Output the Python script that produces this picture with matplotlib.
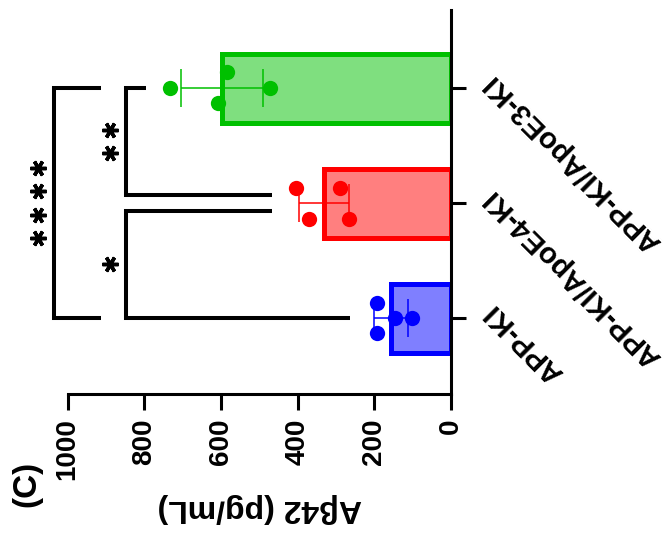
import numpy as np
import matplotlib
matplotlib.use('Agg')
import matplotlib.pyplot as plt

plt.rcParams['font.family'] = ['Liberation Sans', 'DejaVu Sans']
plt.rcParams['font.weight'] = 'bold'

# data
groups = ['APP-KI', 'APP-KI/ApoE4-KI', 'APP-KI/ApoE3-KI']
colors = ['#0000FF', '#FF0000', '#00C000']
means = [157, 331, 598]
sds = [44, 66, 107]
points = [[193, 193, 146, 102],
          [405, 371, 290, 266],
          [734, 585, 608, 473]]
jitter = [[0.13, -0.13, 0, 0],
          [0.135, -0.14, 0.135, -0.14],
          [0, 0.14, -0.13, 0]]
ticks = [0, 200, 400, 600, 800, 1000]

# significance brackets: (start, end, level, arm at start, arm at end, number of stars)
brackets = [(0, 0.933, 849, 264, 467, 1),
            (1.067, 2, 849, 467, 795, 2),
            (0, 2, 1037, 914, 914, 4)]

fig = plt.figure(figsize=(6.69, 5.41), dpi=100)
ax = fig.add_axes([0.1012, 0.2717, 0.5728, 0.7098])

pos = np.arange(len(groups))
for i in pos:
    ax.barh(i, means[i], height=0.6, color=colors[i], alpha=0.5, zorder=1)
    ax.barh(i, means[i], height=0.6, fill=False, edgecolor=colors[i], linewidth=3.6, zorder=2)
    ax.errorbar(means[i], i, xerr=sds[i], color=colors[i], elinewidth=1.1,
                capsize=13.7, capthick=1.1, zorder=3)
    ax.plot(points[i], i + np.array(jitter[i]), 'o', color=colors[i],
            markersize=11, markeredgewidth=0, zorder=4, clip_on=False)

for y0, y1, lvl, a0, a1, n in brackets:
    ax.plot([a0, lvl, lvl, a1], [y0, y0, y1, y1], color='black', linewidth=2.9,
            solid_joinstyle='miter', solid_capstyle='butt', clip_on=False, zorder=5)
    mid = (y0 + y1) / 2
    ys = mid + (np.arange(n) - (n - 1) / 2) * 0.203
    ax.plot([lvl + 40] * n, ys, linestyle='none', marker=(6, 2, 90), color='black',
            markersize=11.5, markeredgewidth=2.5, clip_on=False, zorder=5)

ax.set_xlim(1000, 0)
ax.set_ylim(-0.66, 2.68)
ax.spines['left'].set_visible(False)
ax.spines['top'].set_visible(False)
ax.spines['right'].set_linewidth(2.2)
ax.spines['bottom'].set_linewidth(2.2)
ax.yaxis.tick_right()
ax.set_yticks(pos)
ax.set_yticklabels(groups, rotation=135, rotation_mode='anchor', ha='right', va='top',
                   fontsize=21, fontweight='bold')
ax.set_xticks(ticks)
ax.set_xticklabels([str(t) for t in ticks], rotation=90, fontsize=20, fontweight='bold')
ax.tick_params(axis='x', length=11.5, width=2.2, pad=6)
ax.tick_params(axis='y', length=11, width=2.2, pad=9)
ax.set_xlabel('Aβ42 (pg/mL)', rotation=180, fontsize=23, fontweight='bold', labelpad=9)

fig.text(27 / 669, 1 - 484 / 541, '(C)', rotation=90, fontsize=24, fontweight='bold',
         ha='center', va='center')

fig.savefig('out.png', dpi=100)
